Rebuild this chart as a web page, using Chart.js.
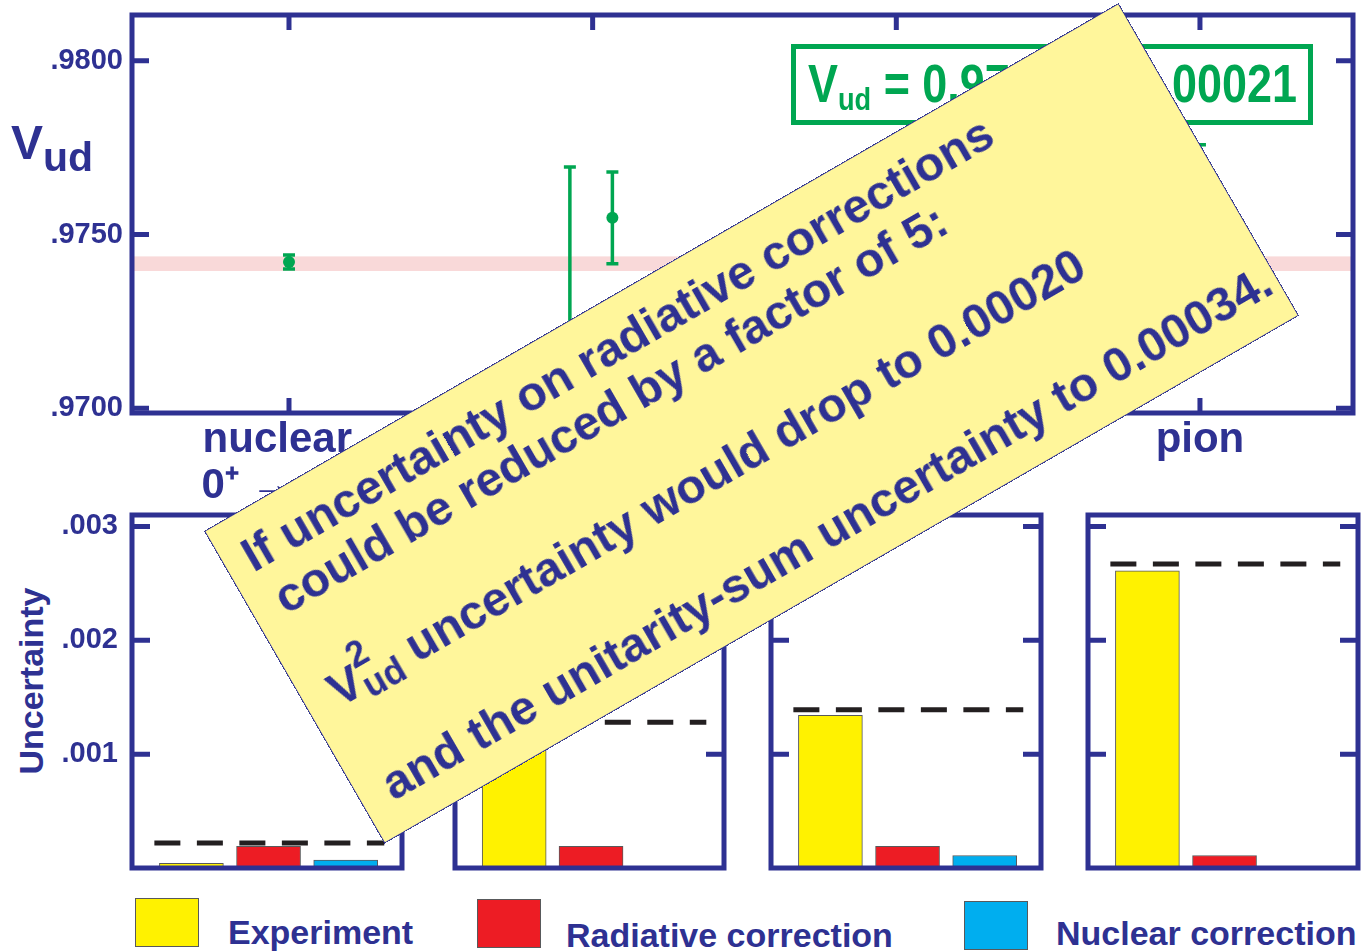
<!DOCTYPE html>
<html>
<head>
<meta charset="utf-8">
<title>Vud and its uncertainty budget</title>
<script src="https://cdn.jsdelivr.net/npm/chart.js@4.4.1/dist/chart.umd.min.js"></script>
<style>
  body { margin: 0; background: #fff; }
  #page {
    position: relative; width: 1361px; height: 952px; overflow: hidden;
    font-family: "Liberation Sans", Arial, sans-serif; font-weight: bold;
    color: #2e3192; line-height: 1;
  }
  canvas { position: absolute; }
  .txt { position: absolute; white-space: nowrap; }
  #vudTitle { left: 11px; top: 119px; font-size: 48px; }
  #vudTitle span { position: relative; top: 12px; font-size: 41px; }
  #uncTitle { left: 31px; top: 681px; font-size: 34px; transform: translate(-50%, -50%) rotate(-90deg); }
  #avgBox { position: absolute; left: 791px; top: 44px; width: 522px; height: 81px;
    border: 5px solid #00a651; box-sizing: border-box; }
  #avgText { left: 808px; top: 57px; font-size: 53px; color: #00a651; transform-origin: 0 0; }
  #avgText span { position: relative; top: 8px; font-size: 32px; }
  .key { position: absolute; width: 64px; height: 49px; border: 1.5px solid #58595b; box-sizing: border-box; }
  .keyText { font-size: 34px; }
  #note {
    position: absolute; left: 204px; top: 531px; width: 1056px; height: 361px;
    transform-origin: 0 0; transform: rotate(-30deg);
    background: #fff69b; border: 1.5px solid #2e3192; box-sizing: border-box;
  }
  #note div { position: absolute; white-space: nowrap; font-size: 48px; }
  #note .sq { position: relative; top: -26px; font-size: 36px; }
  #note .ud { position: relative; top: 8px; font-size: 36px; margin-left: -20px; }
</style>
</head>
<body>
<div id="page">
  <canvas id="vudChart" width="1361" height="510" style="left:0;top:0"></canvas>
  <div class="txt" id="vudTitle">V<span>ud</span></div>
  <div class="txt" id="uncTitle">Uncertainty</div>
  <div id="avgBox"></div>
  <div class="txt" id="avgText"></div>
  <div id="note">
    <div style="left:21px;top:20px">If uncertainty on radiative corrections</div>
    <div style="left:28px;top:73px">could be reduced by a factor of 5:</div>
    <div style="left:28px;top:180px">V<span class="sq">2</span><span class="ud">ud</span> uncertainty would drop to 0.00020</div>
    <div style="left:28px;top:288px">and the unitarity-sum uncertainty to 0.00034.</div>
  </div>
</div>
<script>
const NAVY = '#2e3192';
const GREEN = '#00a651';
Chart.defaults.font.family = '"Liberation Sans", Arial, sans-serif';
Chart.defaults.font.weight = 'bold';
Chart.defaults.color = NAVY;

// Vud from each kind of decay (neutron shows two lifetime choices)
const categories = [['nuclear  ', '0⁺ → 0⁺   '], 'neutron', ['nuclear', 'mirror'], 'pion'];
const vudX = [1, 1.925, 2.065, 3, 4];
const vudValues = [0.97421, 0.97220, 0.97548, 0.97190, 0.97495];
const vudErrors = [0.00020, 0.00474, 0.00132, 0.00137, 0.00263];
const vudAverage = 0.97416;
const vudAverageError = 0.00021;
const vudTicks = [0.970, 0.975, 0.980];

// uncertainty budget for each decay type, same order as categories
const sources = ['Experiment', 'Radiative correction', 'Nuclear correction'];
const sourceColors = ['#fff200', '#ed1c24', '#00aeef'];
const experimentUnc = [0.00004, 0.00126, 0.00134, 0.00261];
const radiativeUnc = [0.00019, 0.00019, 0.00019, 0.00011];
const nuclearUnc = [0.00007, null, 0.00011, null];
const totalUnc = [0.00022, 0.00128, 0.00139, 0.00267];
const uncTicks = [0.001, 0.002, 0.003];

// left/right edges of the four small plot boxes
const panelBoxes = [[132, 402], [455, 724], [771, 1041], [1088, 1358]];
const keyBoxes = [[135, 898], [477, 899], [964, 901]];
const keyLabels = [[228, 915], [566, 918], [1056, 916]];

const page = document.getElementById('page');

// average in its green box, squeezed to the box width
const avgText = document.getElementById('avgText');
avgText.innerHTML = 'V<span>ud</span> = ' + vudAverage.toFixed(5) + ' ± ' + vudAverageError.toFixed(5);
avgText.style.transform = 'scaleX(' + (489 / avgText.getBoundingClientRect().width) + ')';

// no label overhang: plot edges stay where the layout puts them
function noOverhang(s) {
  s.paddingTop = 0; s.paddingBottom = 0; s.paddingLeft = 0; s.paddingRight = 0;
}

// thick box round the plot area, tick marks pointing inwards on all sides
const frame = {
  id: 'frame',
  afterDraw(chart, args, opts) {
    const { ctx, chartArea: a } = chart;
    const { x, y } = chart.scales;
    ctx.save();
    ctx.strokeStyle = NAVY;
    ctx.lineWidth = 5;
    ctx.beginPath();
    for (const t of y.ticks) {
      const py = y.getPixelForValue(t.value);
      ctx.moveTo(a.left, py); ctx.lineTo(a.left + opts.yLen, py);
      ctx.moveTo(a.right, py); ctx.lineTo(a.right - opts.yLen, py);
    }
    if (opts.xLen) {
      for (const t of x.ticks) {
        const px = x.getPixelForValue(t.value);
        ctx.moveTo(px, a.top); ctx.lineTo(px, a.top + opts.xLen);
        ctx.moveTo(px, a.bottom); ctx.lineTo(px, a.bottom - opts.xLen);
      }
    }
    ctx.stroke();
    ctx.strokeRect(a.left, a.top, a.width, a.height);
    ctx.restore();
  }
};

// shaded band for the average, then vertical error bars with caps
const errorBars = {
  id: 'errorBars',
  beforeDatasetsDraw(chart) {
    const { ctx, chartArea: a } = chart;
    const { x, y } = chart.scales;
    ctx.save();
    ctx.beginPath();
    ctx.rect(a.left, a.top, a.width, a.height);
    ctx.clip();
    const top = y.getPixelForValue(vudAverage + vudAverageError);
    const bot = y.getPixelForValue(vudAverage - vudAverageError);
    ctx.fillStyle = '#f9d9d9';
    ctx.fillRect(a.left, top, a.width, bot - top);
    ctx.strokeStyle = GREEN;
    ctx.lineWidth = 3.5;
    ctx.beginPath();
    vudValues.forEach((v, i) => {
      const px = x.getPixelForValue(vudX[i]);
      const hi = y.getPixelForValue(v + vudErrors[i]);
      const lo = y.getPixelForValue(v - vudErrors[i]);
      ctx.moveTo(px, hi); ctx.lineTo(px, lo);
      ctx.moveTo(px - 6, hi); ctx.lineTo(px + 6, hi);
      ctx.moveTo(px - 6, lo); ctx.lineTo(px + 6, lo);
    });
    ctx.stroke();
    ctx.restore();
  }
};

new Chart('vudChart', {
  type: 'scatter',
  data: {
    datasets: [{
      data: vudX.map((x, i) => ({ x, y: vudValues[i] })),
      pointRadius: 6,
      backgroundColor: GREEN,
      borderWidth: 0
    }]
  },
  options: {
    responsive: false,
    animation: false,
    layout: { padding: { top: 15, right: 8, left: 0, bottom: 0 }, autoPadding: false },
    plugins: { legend: { display: false }, tooltip: { enabled: false }, frame: { xLen: 15, yLen: 17 } },
    scales: {
      x: {
        type: 'linear', min: 0.483, max: 4.504,
        afterBuildTicks: s => { s.ticks = categories.map((c, i) => ({ value: i + 1 })); },
        afterFit: s => { s.height = 97; noOverhang(s); },
        grid: { display: false, drawTicks: false },
        border: { display: false },
        ticks: {
          autoSkip: false, maxRotation: 0, padding: 4,
          font: { size: 42, lineHeight: 1.1 },
          callback: v => categories[v - 1]
        }
      },
      y: {
        min: 0.969865, max: 0.981315,
        afterBuildTicks: s => { s.ticks = vudTicks.map(value => ({ value })); },
        afterFit: s => { s.width = 132; noOverhang(s); },
        grid: { display: false, drawTicks: false },
        border: { display: false },
        ticks: { padding: 9, font: { size: 29 }, callback: v => v.toFixed(4).slice(1) }
      }
    }
  },
  plugins: [errorBars, frame]
});

categories.forEach((c, i) => {
  const [l, r] = panelBoxes[i];
  const axisW = i === 0 ? 132 : 0;
  const left = i === 0 ? 0 : l - 10;
  const canvas = document.createElement('canvas');
  canvas.width = r + 8 - left;
  canvas.height = 380;
  canvas.style.left = left + 'px';
  canvas.style.top = '500px';
  page.insertBefore(canvas, document.getElementById('avgBox'));

  new Chart(canvas, {
    type: 'bar',
    data: {
      datasets: [{
        type: 'bar',
        data: [experimentUnc[i], radiativeUnc[i], nuclearUnc[i]].map((y, k) => ({ x: k + 1, y })),
        backgroundColor: sourceColors,
        borderColor: '#58595b',
        borderWidth: 1,
        barThickness: 64,
        order: 2
      }, {
        type: 'line',
        data: [{ x: 0.52, y: totalUnc[i] }, { x: 3.5, y: totalUnc[i] }],
        borderColor: '#231f20',
        borderWidth: 5,
        borderDash: [26, 16.5],
        pointRadius: 0,
        order: 1
      }]
    },
    options: {
      responsive: false,
      animation: false,
      layout: { padding: { top: 15, bottom: 12, left: l - left - axisW, right: 8 }, autoPadding: false },
      plugins: { legend: { display: false }, tooltip: { enabled: false }, frame: { xLen: 0, yLen: 18 } },
      scales: {
        x: { type: 'linear', min: 0.23, max: 3.73, offset: false, display: false },
        y: {
          min: 0, max: 0.0031,
          afterBuildTicks: s => { s.ticks = uncTicks.map(value => ({ value })); },
          afterFit: s => { s.width = axisW; noOverhang(s); },
          grid: { display: false, drawTicks: false },
          border: { display: false },
          ticks: { display: i === 0, padding: 14, font: { size: 29 }, callback: v => v.toFixed(3).slice(1) }
        }
      }
    },
    plugins: [frame]
  });
});

// colour key along the bottom
sources.forEach((name, k) => {
  const box = document.createElement('div');
  box.className = 'key';
  box.style.left = keyBoxes[k][0] + 'px';
  box.style.top = keyBoxes[k][1] + 'px';
  box.style.background = sourceColors[k];
  page.insertBefore(box, document.getElementById('note'));
  const label = document.createElement('div');
  label.className = 'txt keyText';
  label.style.left = keyLabels[k][0] + 'px';
  label.style.top = keyLabels[k][1] + 'px';
  label.textContent = name;
  page.insertBefore(label, document.getElementById('note'));
});
</script>
</body>
</html>
